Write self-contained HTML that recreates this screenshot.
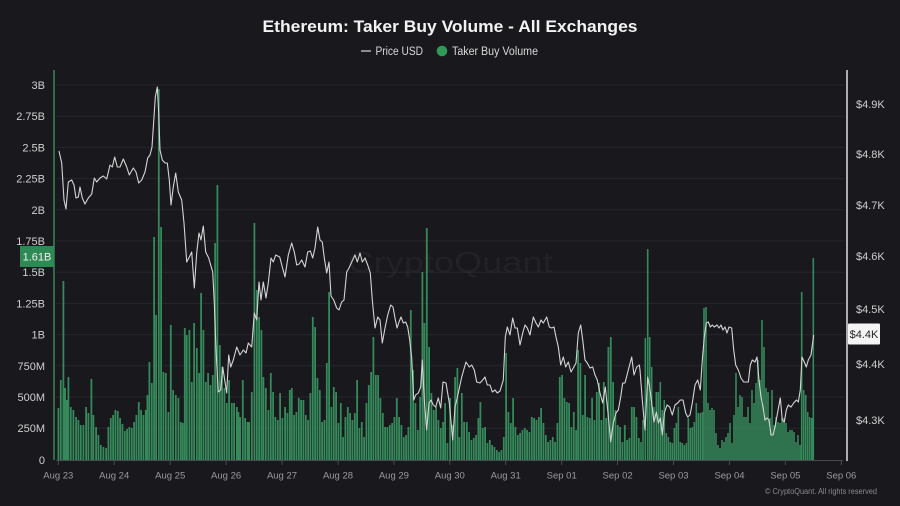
<!DOCTYPE html>
<html><head><meta charset="utf-8"><style>
html,body{margin:0;padding:0;background:#19181d;}
svg{display:block;font-family:"Liberation Sans",sans-serif;}
</style></head><body>
<svg width="900" height="506" viewBox="0 0 900 506" xmlns="http://www.w3.org/2000/svg">
<rect width="900" height="506" fill="#19181d"/>
<text x="450" y="32" text-anchor="middle" font-size="17" font-weight="bold" fill="#f2f2f2" textLength="375" lengthAdjust="spacingAndGlyphs">Ethereum: Taker Buy Volume - All Exchanges</text>
<line x1="361" y1="51" x2="371" y2="51" stroke="#d8d8d8" stroke-width="1.2"/>
<text x="375.5" y="55" font-size="11.5" fill="#d8d8d8" textLength="47.5" lengthAdjust="spacingAndGlyphs">Price USD</text>
<circle cx="442" cy="51" r="5.3" fill="#2f9a58"/>
<text x="452" y="55" font-size="11.5" fill="#d8d8d8" textLength="86" lengthAdjust="spacingAndGlyphs">Taker Buy Volume</text>
<g stroke="#26262c" stroke-width="1">
<line x1="56" y1="85" x2="845" y2="85"/><line x1="56" y1="116.2" x2="845" y2="116.2"/><line x1="56" y1="147.4" x2="845" y2="147.4"/><line x1="56" y1="178.6" x2="845" y2="178.6"/><line x1="56" y1="209.8" x2="845" y2="209.8"/><line x1="56" y1="241" x2="845" y2="241"/><line x1="56" y1="272.2" x2="845" y2="272.2"/><line x1="56" y1="303.4" x2="845" y2="303.4"/><line x1="56" y1="334.6" x2="845" y2="334.6"/><line x1="56" y1="365.8" x2="845" y2="365.8"/><line x1="56" y1="397" x2="845" y2="397"/><line x1="56" y1="428.2" x2="845" y2="428.2"/>
</g>
<text x="450" y="272" text-anchor="middle" font-size="29" fill="#ffffff" fill-opacity="0.045" textLength="205" lengthAdjust="spacingAndGlyphs">CryptoQuant</text>
<path fill="#35895a" d="M57.5 460V408h1.8V460M59.9 460V380h1.8V460M62.5 460V281h1.8V460M64.2 460V388h1.8V460M65.9 460V400h1.8V460M67.5 460V377h1.8V460M69.9 460V407h1.8V460M72.5 460V410h1.8V460M75.2 460V417h1.8V460M77.5 460V420h1.8V460M79.9 460V425h1.8V460M82.5 460V425h1.8V460M85.2 460V407h1.8V460M87.5 460V413h1.8V460M90.5 460V379h1.8V460M92.5 460V415h1.8V460M95.2 460V427h1.8V460M97.5 460V435h1.8V460M99.9 460V445h1.8V460M102.5 460V447h1.8V460M105.2 460V448h1.8V460M107.5 460V427h1.8V460M109.9 460V418h1.8V460M112.2 460V415h1.8V460M114.5 460V410h1.8V460M116.9 460V411h1.8V460M119.2 460V418h1.8V460M121.5 460V424h1.8V460M123.9 460V431h1.8V460M126.2 460V429h1.8V460M128.5 460V427h1.8V460M130.9 460V428h1.8V460M133.2 460V422h1.8V460M135.5 460V415h1.8V460M137.9 460V402h1.8V460M140.2 460V410h1.8V460M142.5 460V415h1.8V460M144.9 460V410h1.8V460M146.5 460V395h1.8V460M148.5 460V362h1.8V460M150.9 460V383h1.8V460M153.2 460V237h1.8V460M155.2 460V315h1.8V460M157.9 460V89h1.8V460M160.2 460V227h1.8V460M162.5 460V372h1.8V460M164.9 460V373h1.8V460M167.5 460V412h1.8V460M169.9 460V325h1.8V460M172.2 460V390h1.8V460M174.9 460V395h1.8V460M177.5 460V398h1.8V460M179.9 460V422h1.8V460M181.9 460V423h1.8V460M183.9 460V328h1.8V460M185.9 460V335h1.8V460M188.5 460V330h1.8V460M190.9 460V382h1.8V460M193.2 460V323h1.8V460M195.9 460V348h1.8V460M198.2 460V373h1.8V460M200.2 460V293h1.8V460M202.5 460V330h1.8V460M204.9 460V382h1.8V460M207.2 460V373h1.8V460M209.5 460V385h1.8V460M211.9 460V375h1.8V460M214.2 460V243h1.8V460M216.5 460V185h1.8V460M218.9 460V345h1.8V460M221.2 460V367h1.8V460M223.5 460V388h1.8V460M225.9 460V403h1.8V460M228.2 460V380h1.8V460M230.9 460V403h1.8V460M233.2 460V403h1.8V460M235.9 460V407h1.8V460M237.5 460V412h1.8V460M239.2 460V417h1.8V460M241.9 460V380h1.8V460M244.2 460V418h1.8V460M246.5 460V422h1.8V460M248.2 460V422h1.8V460M250.9 460V392h1.8V460M253.5 460V223h1.8V460M255.9 460V290h1.8V460M258.2 460V317h1.8V460M260.5 460V330h1.8V460M262.5 460V377h1.8V460M264.9 460V388h1.8V460M267.5 460V410h1.8V460M269.9 460V373h1.8V460M272.2 460V392h1.8V460M274.5 460V417h1.8V460M276.9 460V420h1.8V460M279.2 460V393h1.8V460M281.5 460V418h1.8V460M284.2 460V407h1.8V460M286.5 460V413h1.8V460M288.9 460V390h1.8V460M290.9 460V388h1.8V460M293.2 460V415h1.8V460M295.5 460V412h1.8V460M297.9 460V398h1.8V460M300.2 460V400h1.8V460M302.5 460V400h1.8V460M304.9 460V415h1.8V460M307.2 460V420h1.8V460M309.5 460V393h1.8V460M311.9 460V317h1.8V460M314.2 460V327h1.8V460M316.5 460V378h1.8V460M318.9 460V390h1.8V460M321.2 460V422h1.8V460M323.5 460V420h1.8V460M325.9 460V363h1.8V460M328.2 460V292h1.8V460M330.5 460V407h1.8V460M332.9 460V387h1.8V460M335.2 460V392h1.8V460M337.5 460V423h1.8V460M339.9 460V403h1.8V460M342.2 460V437h1.8V460M344.5 460V417h1.8V460M346.9 460V407h1.8V460M349.2 460V413h1.8V460M351.5 460V420h1.8V460M353.9 460V413h1.8V460M356.2 460V380h1.8V460M358.5 460V428h1.8V460M360.9 460V422h1.8V460M363.2 460V437h1.8V460M365.5 460V403h1.8V460M367.9 460V385h1.8V460M370.2 460V372h1.8V460M372.5 460V337h1.8V460M374.9 460V375h1.8V460M377.2 460V375h1.8V460M379.5 460V398h1.8V460M381.9 460V413h1.8V460M384.2 460V427h1.8V460M386.5 460V427h1.8V460M388.9 460V425h1.8V460M391.2 460V423h1.8V460M393.5 460V417h1.8V460M395.9 460V398h1.8V460M398.2 460V417h1.8V460M400.5 460V425h1.8V460M402.9 460V437h1.8V460M405.2 460V435h1.8V460M407.5 460V427h1.8V460M409.9 460V310h1.8V460M412.2 460V370h1.8V460M414.5 460V403h1.8V460M416.9 460V430h1.8V460M419.2 460V397h1.8V460M421.5 460V272h1.8V460M423.5 460V323h1.8V460M425.9 460V228h1.8V460M428.2 460V347h1.8V460M430.5 460V393h1.8V460M432.9 460V410h1.8V460M435.2 460V407h1.8V460M437.5 460V420h1.8V460M439.9 460V428h1.8V460M442.2 460V422h1.8V460M444.2 460V403h1.8V460M446.5 460V443h1.8V460M449.2 460V398h1.8V460M451.9 460V425h1.8V460M454.2 460V377h1.8V460M456.5 460V368h1.8V460M458.5 460V437h1.8V460M460.9 460V393h1.8V460M463.2 460V422h1.8V460M465.9 460V422h1.8V460M468.2 460V432h1.8V460M470.5 460V440h1.8V460M472.9 460V438h1.8V460M475.2 460V435h1.8V460M477.5 460V418h1.8V460M479.5 460V402h1.8V460M481.9 460V428h1.8V460M484.2 460V427h1.8V460M486.5 460V443h1.8V460M488.9 460V440h1.8V460M491.2 460V445h1.8V460M493.5 460V447h1.8V460M495.9 460V450h1.8V460M498.2 460V452h1.8V460M500.5 460V450h1.8V460M502.9 460V437h1.8V460M505.2 460V353h1.8V460M507.5 460V412h1.8V460M509.9 460V423h1.8V460M512.2 460V398h1.8V460M514.5 460V427h1.8V460M516.9 460V435h1.8V460M519.2 460V433h1.8V460M521.5 460V430h1.8V460M523.9 460V428h1.8V460M526.2 460V430h1.8V460M528.5 460V432h1.8V460M530.9 460V417h1.8V460M533.2 460V418h1.8V460M535.5 460V420h1.8V460M537.9 460V417h1.8V460M540.2 460V408h1.8V460M542.5 460V423h1.8V460M544.9 460V435h1.8V460M547.2 460V442h1.8V460M549.5 460V440h1.8V460M551.9 460V437h1.8V460M554.2 460V442h1.8V460M556.5 460V423h1.8V460M558.9 460V377h1.8V460M561.2 460V375h1.8V460M563.5 460V398h1.8V460M565.9 460V402h1.8V460M568.2 460V403h1.8V460M570.5 460V427h1.8V460M572.9 460V412h1.8V460M575.2 460V430h1.8V460M577.2 460V350h1.8V460M579.5 460V363h1.8V460M581.9 460V415h1.8V460M584.2 460V375h1.8V460M586.5 460V417h1.8V460M588.9 460V418h1.8V460M591.2 460V398h1.8V460M593.5 460V420h1.8V460M595.9 460V392h1.8V460M598.2 460V383h1.8V460M600.5 460V420h1.8V460M602.9 460V382h1.8V460M605.2 460V418h1.8V460M607.5 460V347h1.8V460M609.9 460V337h1.8V460M612.2 460V382h1.8V460M614.5 460V410h1.8V460M616.9 460V425h1.8V460M619.2 460V427h1.8V460M621.5 460V442h1.8V460M623.9 460V425h1.8V460M626.2 460V440h1.8V460M628.5 460V438h1.8V460M630.9 460V407h1.8V460M633.2 460V407h1.8V460M635.5 460V417h1.8V460M637.9 460V438h1.8V460M640.2 460V442h1.6V460M642.2 460V420h1.6V460M644.5 460V338h1.6V460M646.9 460V249h1.6V460M648.9 460V337h1.6V460M650.9 460V367h1.6V460M653.2 460V407h1.6V460M655.5 460V392h1.6V460M657.5 460V392h1.6V460M659.5 460V382h1.6V460M661.5 460V410h1.6V460M663.5 460V400h1.6V460M665.5 460V433h1.6V460M667.5 460V437h1.6V460M669.5 460V442h1.6V460M671.5 460V443h1.6V460M673.5 460V428h1.6V460M675.5 460V423h1.6V460M677.5 460V407h1.6V460M679.5 460V442h1.6V460M681.5 460V443h1.6V460M683.5 460V445h1.6V460M685.5 460V443h1.6V460M687.5 460V418h1.6V460M689.5 460V428h1.6V460M691.5 460V427h1.6V460M693.5 460V422h1.6V460M695.5 460V403h1.6V460M697.5 460V413h1.6V460M699.5 460V413h1.6V460M701.5 460V412h1.6V460M703.2 460V308h1.6V460M705.2 460V307h1.6V460M707.2 460V403h1.6V460M709.2 460V410h1.6V460M711.2 460V408h1.6V460M713.2 460V410h1.6V460M715.2 460V433h1.6V460M717.2 460V445h1.6V460M719.2 460V448h1.6V460M721.2 460V440h1.6V460M723.2 460V442h1.6V460M725.2 460V437h1.6V460M727.2 460V433h1.6V460M729.2 460V423h1.6V460M731.2 460V443h1.6V460M733.2 460V415h1.6V460M735.2 460V373h1.6V460M737.2 460V407h1.6V460M739.2 460V395h1.6V460M741.2 460V397h1.6V460M743.2 460V417h1.6V460M745.2 460V417h1.6V460M747.2 460V407h1.6V460M749.2 460V423h1.6V460M751.2 460V390h1.6V460M753.2 460V403h1.6V460M755.2 460V383h1.6V460M757.2 460V360h1.6V460M759.2 460V380h1.6V460M761.2 460V320h1.6V460M763.2 460V347h1.6V460M765.2 460V388h1.6V460M767.2 460V392h1.6V460M769.2 460V418h1.6V460M771.2 460V390h1.6V460M773.2 460V425h1.6V460M775.2 460V417h1.6V460M777.2 460V422h1.6V460M779.2 460V423h1.6V460M781.2 460V418h1.6V460M783.2 460V418h1.6V460M785.2 460V423h1.6V460M787.2 460V432h1.6V460M789.2 460V430h1.6V460M791.2 460V430h1.6V460M793.2 460V432h1.6V460M795.2 460V442h1.6V460M797.2 460V435h1.6V460M799.2 460V445h1.6V460M800.9 460V292h1.6V460M802.9 460V390h1.6V460M804.9 460V395h1.6V460M806.9 460V412h1.6V460M808.9 460V417h1.6V460M810.9 460V418h1.6V460M812.5 460V258h1.6V460"/>
<polyline fill="none" stroke="#d4d4d4" stroke-width="1.1" stroke-linejoin="round" points="59,151 61.7,163 64,200 66,209 68.3,182 71.7,180 74,185 76,198 78.3,197 80,187 82.3,198 85,204 88.3,198 91.7,194 94.3,178 96.7,182 100,178 103.3,176 106.7,179 110,165 112.3,167 114.7,157 117.3,167 120,167 123.3,159 126.7,167 129.3,175 133.3,168 136,172 138.7,183 141.7,180 145,172 147.7,158 150,155 152,147 154,117 155.3,97 157.3,87 158.7,113 160,150 162.3,160 165,163 167.3,163 169.3,180 171,205 173.3,187 175.7,173 178.3,192 181.7,200 184,223 186.7,262 189.3,257 191.7,252 194.3,288 196.7,253 199,233 201,240 203.3,226 205.7,252 208.7,258 212.7,272 214.3,303 216,350 218.3,392 220.7,390 222.7,367 224.7,380 226.7,393 228.7,355 230.7,367 233.3,360 236.7,347 240,355 243.3,350 246,353 248.3,343 251.7,347 254.3,313 256.7,320 259,282 261,300 263.3,282 266,298 268.3,283 271,258 273.3,262 275.7,255 279.7,257 282.3,267 285,277 288.3,255 291.7,243 294.3,252 296.7,265 299,264 301.7,260 305,267 307.7,252 310.3,251 312.7,258 315,248 317.7,227 320,240 322.3,242 324.3,258 326.7,273 329,262 331,296 333.7,300 336.7,308 339,310 341.7,302 344,300 346.7,272 349,268 351.7,262 355,255 357.3,262 360,253 362.3,262 365,258 367.7,265 370.3,273 372.3,300 375,328 377.7,317 380,320 382.3,343 385,328 387.7,315 390.7,305 393,307 395,318 397,328 399,322 401,317 403.3,323 405.7,322 407.7,327 409.7,340 411.7,358 413.7,400 415.7,395 418.3,393 420.7,387 422.3,360 424.3,400 426.7,430 429,403 431,400 433.3,405 435.7,407 438.3,398 440.7,408 443,382 446,383 449.3,403 452.7,440 455,407 458.3,393 461.7,377 466,362 469.3,367 471.7,365 474.3,370 476.7,382 480,383 482.7,380 485,377 487.3,385 490,385 492.3,392 495,390 497.3,393 500,391 503.3,380 505.3,337 507.3,327 510,335 512.7,318 515,328 517.3,328 520,345 522.7,333 525,325 527.3,328 530,335 533.3,317 536,323 538.3,327 541,320 543.3,323 546.7,317 549.3,327 551.7,328 554,327 556,337 558.3,347 560.7,365 563.3,357 565.7,367 568.3,362 571,372 573.3,368 576,363 578.3,333 580.7,325 582.7,340 585,360 587.3,363 590,368 592.7,367 595,375 597.3,380 600,393 602.7,403 605.3,387 608,413 610.7,442 613.3,423 616,413 618.3,410 620.7,397 622.7,383 625,383 628.3,370 631.7,357 634,375 636.7,367 639.3,365 640,370 642.3,400 645,430 647.7,377 649.7,387 651.7,403 654,422 656.3,412 658.3,423 660.3,418 662.3,435 664.3,413 667,405 669.7,407 672.3,415 675,405 677.7,403 680.3,400 683,400 685.7,413 687.7,417 690,415 692.3,403 695,385 697.7,380 700.3,390 702.3,360 704.3,337 706.3,323 708.3,322 710.3,327 712.3,325 714.3,327 717,325 719,328 721,325 723,330 725,327 727,333 729,327 731.7,328 733.7,350 735.7,365 738.3,370 741,378 743.7,382 746.3,382 748.3,382 750.3,365 752.3,360 755,362 757,357 759,380 761,397 763,407 765,420 767,418 769,420 771,435 773,435 775,427 777.7,412 780.3,398 782.3,420 784.3,422 786.3,410 788.3,405 791,407 793.7,403 796.3,400 798.3,402 800.3,390 802,357 804.3,362 806.3,367 808.3,360 811,355 813.7,335"/>
<line x1="56" y1="460.5" x2="843" y2="460.5" stroke="#4a4a50" stroke-width="1"/>
<g stroke="#4a4a50" stroke-width="1">
<line x1="58.3" y1="460" x2="58.3" y2="465"/><line x1="114.2" y1="460" x2="114.2" y2="465"/><line x1="170.2" y1="460" x2="170.2" y2="465"/><line x1="226.1" y1="460" x2="226.1" y2="465"/><line x1="282" y1="460" x2="282" y2="465"/><line x1="338" y1="460" x2="338" y2="465"/><line x1="393.9" y1="460" x2="393.9" y2="465"/><line x1="449.8" y1="460" x2="449.8" y2="465"/><line x1="505.7" y1="460" x2="505.7" y2="465"/><line x1="561.7" y1="460" x2="561.7" y2="465"/><line x1="617.6" y1="460" x2="617.6" y2="465"/><line x1="673.5" y1="460" x2="673.5" y2="465"/><line x1="729.5" y1="460" x2="729.5" y2="465"/><line x1="785.4" y1="460" x2="785.4" y2="465"/><line x1="841.3" y1="460" x2="841.3" y2="465"/>
</g>
<line x1="54" y1="70" x2="54" y2="460" stroke="#3a9a5e" stroke-width="1.3"/>
<line x1="847" y1="70" x2="847" y2="461" stroke="#e0e0e0" stroke-width="1.5"/>
<g font-size="11" fill="#cfcfcf" text-anchor="end">
<text x="45" y="89">3B</text><text x="45" y="120">2.75B</text><text x="45" y="151.5">2.5B</text><text x="45" y="182.5">2.25B</text><text x="45" y="214">2B</text><text x="45" y="245">1.75B</text><text x="45" y="276">1.5B</text><text x="45" y="307.5">1.25B</text><text x="45" y="338.5">1B</text><text x="45" y="370">750M</text><text x="45" y="401">500M</text><text x="45" y="432">250M</text><text x="45" y="464">0</text>
</g>
<rect x="20" y="246" width="34" height="21" fill="#2e8a55"/>
<text x="37" y="260.5" font-size="11" fill="#f0f0f0" text-anchor="middle">1.61B</text>
<g font-size="11" fill="#cfcfcf">
<text x="856" y="108">$4.9K</text><text x="856" y="158">$4.8K</text><text x="856" y="209">$4.7K</text><text x="856" y="260">$4.6K</text><text x="856" y="313">$4.5K</text><text x="856" y="368">$4.4K</text><text x="856" y="424">$4.3K</text>
</g>
<rect x="848" y="323.5" width="32" height="21" fill="#f4f4f4" rx="1"/>
<text x="864" y="338" font-size="11" fill="#222" text-anchor="middle">$4.4K</text>
<g font-size="9.5" fill="#9a9a9f" text-anchor="middle">
<text x="58.3" y="478.5">Aug 23</text><text x="114.2" y="478.5">Aug 24</text><text x="170.2" y="478.5">Aug 25</text><text x="226.1" y="478.5">Aug 26</text><text x="282" y="478.5">Aug 27</text><text x="338" y="478.5">Aug 28</text><text x="393.9" y="478.5">Aug 29</text><text x="449.8" y="478.5">Aug 30</text><text x="505.7" y="478.5">Aug 31</text><text x="561.7" y="478.5">Sep 01</text><text x="617.6" y="478.5">Sep 02</text><text x="673.5" y="478.5">Sep 03</text><text x="729.5" y="478.5">Sep 04</text><text x="785.4" y="478.5">Sep 05</text><text x="841.3" y="478.5">Sep 06</text>
</g>
<text x="765" y="494" font-size="8.5" fill="#8a8a90" textLength="112" lengthAdjust="spacingAndGlyphs">© CryptoQuant. All rights reserved</text>
</svg>
</body></html>
